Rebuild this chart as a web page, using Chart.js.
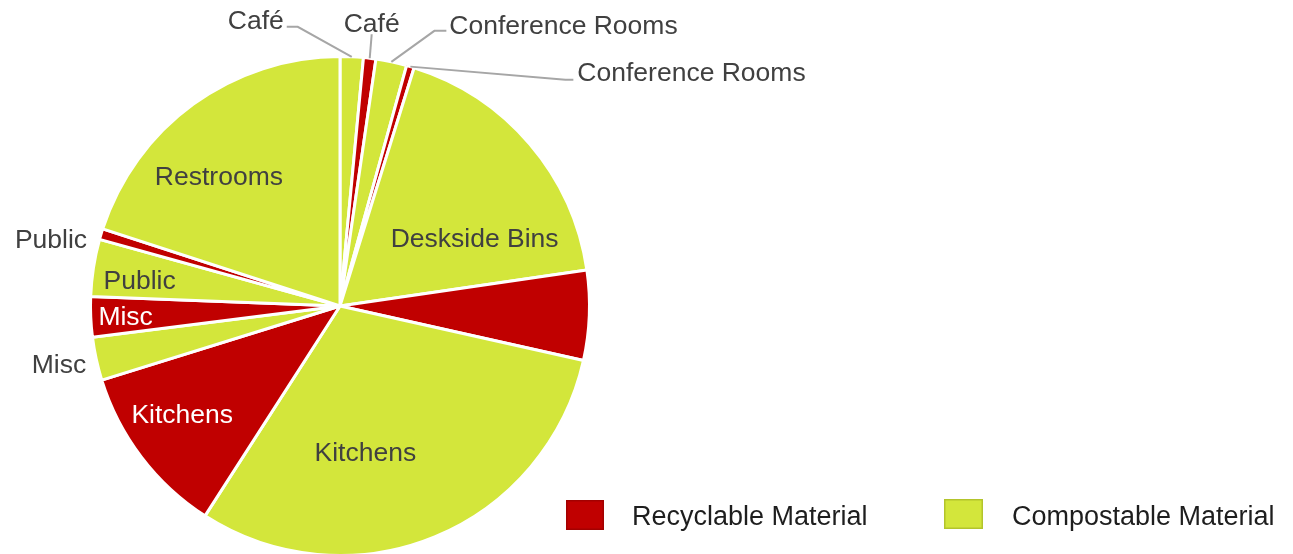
<!DOCTYPE html>
<html lang="en">
<head>
    <meta charset="UTF-8">
    <title>Waste Composition by Area</title>
    <style>
        html, body { margin: 0; padding: 0; background: #fff; overflow: hidden; }
        #wrap { width: 1293px; height: 560px; }
    </style>
</head>
<body>
    <div id="wrap"><canvas id="waste_pie" width="1293" height="560"></canvas></div>
</body>
<script src="https://cdn.jsdelivr.net/npm/chart.js@4.4.0/dist/chart.umd.min.js"></script>
<script>
    // share of total waste (%) per area, split by stream
    const categories = ['Café', 'Conference Rooms', 'Deskside Bins', 'Kitchens', 'Misc', 'Public', 'Restrooms'];
    const compostable = [1.5, 2.0, 17.9, 30.6, 2.8, 3.7, 20.0];
    const recyclable = [0.8, 0.5, 5.8, 11.1, 2.6, 0.7, 0];
    const streamNames = ['Recyclable Material', 'Compostable Material'];

    const RED = '#c00000';
    const GREEN = '#d3e63b';
    const LABEL_SIZE = 26.5;
    const LABEL_FONT = LABEL_SIZE + 'px "Liberation Sans", Arial, sans-serif';
    const LEGEND_FONT = '27px "Liberation Sans", Arial, sans-serif';

    // where each slice label goes: inside (angle offset in degrees, radius fraction),
    // beside the rim, or out on a leader line (points relative to the rim point)
    const compostLabelPos = [
        { type: 'line', pts: [[-54, -30], [-65, -30]], text: [-3, -7], align: 'right' },
        { type: 'line', pts: [[43, -31], [55, -31]], text: [3, -6], align: 'left' },
        { type: 'in', da: 13.4, r: 0.606 },
        { type: 'in', da: 12.4, r: 0.59 },
        { type: 'side', text: [-10, 5], align: 'right' },
        { type: 'in', da: -1.3, r: 0.81 },
        { type: 'in', da: -6.9, r: 0.713 }
    ];
    const recycleLabelPos = [
        { type: 'line', pts: [[2, -24]], text: [0, -12], align: 'center' },
        { type: 'line', pts: [[155, 13], [163, 13]], text: [4, -8], align: 'left' },
        null,
        { type: 'in', da: 2.9, r: 0.766, color: '#fff' },
        { type: 'in', da: 0, r: 0.86, color: '#fff' },
        { type: 'side', text: [-14, 4], align: 'right' },
        null
    ];

    // interleave the two streams so each area sits compost-then-recycle, clockwise
    const sliceLabels = [], sliceValues = [], sliceColors = [], slicePlace = [];
    categories.forEach((c, i) => {
        sliceLabels.push(c, c);
        sliceValues.push(compostable[i], recyclable[i]);
        sliceColors.push(GREEN, RED);
        slicePlace.push(compostLabelPos[i], recycleLabelPos[i]);
    });

    // text centred on the cap height rather than the em box
    function capText(ctx, str, x, y, size) {
        ctx.textBaseline = 'alphabetic';
        ctx.fillText(str, x, y + size * 0.36);
    }

    const sliceText = {
        id: 'sliceText',
        afterDatasetsDraw(chart) {
            const ctx = chart.ctx;
            const meta = chart.getDatasetMeta(0);
            ctx.save();
            ctx.font = LABEL_FONT;
            meta.data.forEach((arc, i) => {
                const place = slicePlace[i];
                if (!place || !sliceValues[i]) return;
                const p = arc.getProps(['x', 'y', 'startAngle', 'endAngle', 'outerRadius'], true);
                const mid = (p.startAngle + p.endAngle) / 2;
                const R = p.outerRadius;
                const ex = p.x + R * Math.cos(mid);
                const ey = p.y + R * Math.sin(mid);
                if (place.type === 'in') {
                    const a = mid + place.da * Math.PI / 180;
                    ctx.fillStyle = place.color || '#404040';
                    ctx.textAlign = 'center';
                    capText(ctx, sliceLabels[i], p.x + place.r * R * Math.cos(a), p.y + place.r * R * Math.sin(a), LABEL_SIZE);
                    return;
                }
                let tx = ex, ty = ey;
                if (place.type === 'line') {
                    ctx.strokeStyle = '#a6a6a6';
                    ctx.lineWidth = 2;
                    ctx.beginPath();
                    ctx.moveTo(ex, ey);
                    place.pts.forEach(([dx, dy]) => ctx.lineTo(ex + dx, ey + dy));
                    ctx.stroke();
                    const last = place.pts[place.pts.length - 1];
                    tx = ex + last[0];
                    ty = ey + last[1];
                }
                ctx.fillStyle = '#404040';
                ctx.textAlign = place.align;
                capText(ctx, sliceLabels[i], tx + place.text[0], ty + place.text[1], LABEL_SIZE);
            });
            ctx.restore();
        },
        afterDraw(chart) {
            // two-entry legend at the lower right
            const ctx = chart.ctx;
            const items = [
                { name: streamNames[0], fill: RED, edge: '#a30000', box: [566, 500, 38, 30], tx: 632 },
                { name: streamNames[1], fill: GREEN, edge: '#b3c42c', box: [944, 499, 39, 30], tx: 1012 }
            ];
            ctx.save();
            ctx.font = LEGEND_FONT;
            ctx.textAlign = 'left';
            items.forEach(it => {
                const [bx, by, bw, bh] = it.box;
                ctx.fillStyle = it.fill;
                ctx.fillRect(bx, by, bw, bh);
                ctx.strokeStyle = it.edge;
                ctx.lineWidth = 1.5;
                ctx.strokeRect(bx + 0.75, by + 0.75, bw - 1.5, bh - 1.5);
                ctx.fillStyle = '#1e1e1e';
                capText(ctx, it.name, it.tx, 515, 27);
            });
            ctx.restore();
        }
    };

    const ctx = document.getElementById('waste_pie').getContext('2d');
    new Chart(ctx, {
        type: 'pie',
        data: {
            labels: sliceLabels,
            datasets: [{
                data: sliceValues,
                backgroundColor: sliceColors,
                borderColor: '#ffffff',
                borderWidth: 3,
                hoverOffset: 0
            }]
        },
        options: {
            responsive: false,
            devicePixelRatio: 1,
            animation: false,
            layout: {
                padding: { left: 89, right: 702, top: 55, bottom: 3 }
            },
            plugins: {
                legend: { display: false },
                tooltip: { enabled: false }
            }
        },
        plugins: [sliceText]
    });
</script>
</html>
